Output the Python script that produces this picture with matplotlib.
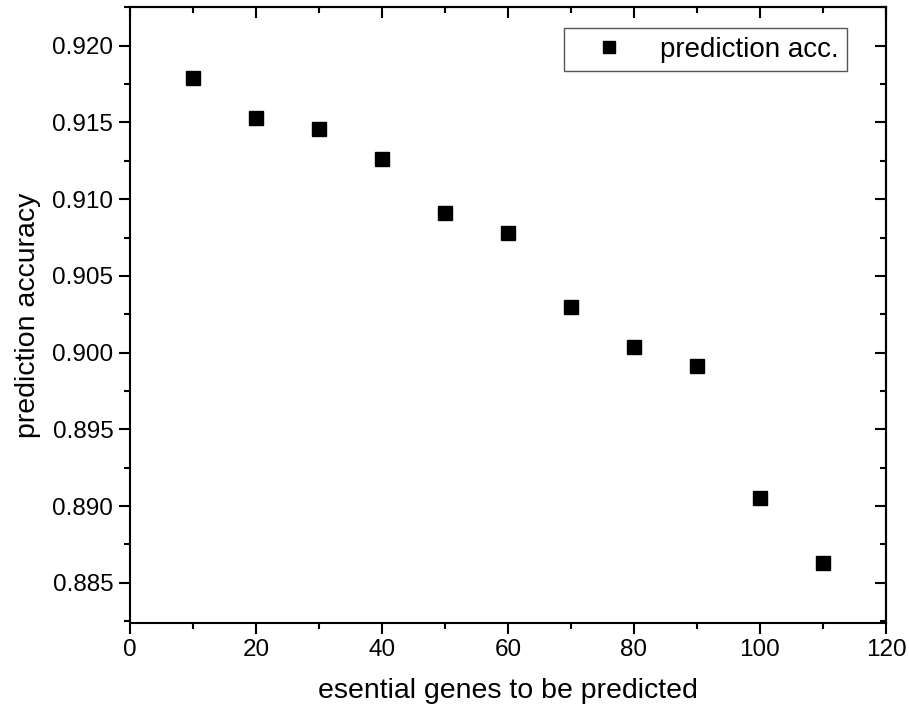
import numpy as np
import matplotlib
matplotlib.use("Agg")
import matplotlib.pyplot as plt
from matplotlib.ticker import MultipleLocator, FormatStrFormatter

plt.rcParams['font.family'] = ['Liberation Sans', 'DejaVu Sans']

# values
genes = [10, 20, 30, 40, 50, 60, 70, 80, 90, 100, 110]
accuracy = [0.9179, 0.9153, 0.9146, 0.9126, 0.9091, 0.9078,
            0.9030, 0.9004, 0.8991, 0.8905, 0.8863]

fig = plt.figure(figsize=(9.09, 7.15), dpi=100)
ax = fig.add_axes([0.143, 0.129, 0.8317, 0.8607])

ax.plot(genes, accuracy, linestyle='none', marker='s', markersize=9.5,
        color='black', label='prediction acc.')

ax.set_xlim(0, 120)
ax.set_ylim(0.8824, 0.9225)

ax.xaxis.set_major_locator(MultipleLocator(20))
ax.xaxis.set_minor_locator(MultipleLocator(10))
ax.yaxis.set_major_locator(MultipleLocator(0.005))
ax.yaxis.set_minor_locator(MultipleLocator(0.0025))
ax.yaxis.set_major_formatter(FormatStrFormatter('%.3f'))

for sp in ax.spines.values():
    sp.set_linewidth(1.5)

ax.tick_params(which='major', direction='out', length=8, width=1.5,
               labelsize=17.5, pad=4)
ax.tick_params(which='minor', direction='out', length=4, width=1.5)

# mirrored ticks pointing inwards on top and right
top = ax.secondary_xaxis('top')
top.xaxis.set_major_locator(MultipleLocator(20))
top.xaxis.set_minor_locator(MultipleLocator(10))
top.tick_params(which='major', direction='in', length=8, width=1.5, labeltop=False)
top.tick_params(which='minor', direction='in', length=4, width=1.5)
right = ax.secondary_yaxis('right')
right.yaxis.set_major_locator(MultipleLocator(0.005))
right.yaxis.set_minor_locator(MultipleLocator(0.0025))
right.tick_params(which='major', direction='in', length=8, width=1.5, labelright=False)
right.tick_params(which='minor', direction='in', length=4, width=1.5)
for s in (top, right):
    for sp in s.spines.values():
        sp.set_linewidth(1.5)

ax.set_xlabel('esential genes to be predicted', fontsize=20.5, labelpad=12)
ax.set_ylabel('prediction accuracy', fontsize=20.5, labelpad=8)

leg = ax.legend(loc='upper right', bbox_to_anchor=(0.963, 0.984), fontsize=20,
                fancybox=False, framealpha=1, edgecolor='#555555',
                borderpad=0.3, handlelength=2.6, handletextpad=0.55,
                borderaxespad=0.4, markerscale=0.85)
leg.get_frame().set_linewidth(1.0)

fig.savefig('out.png', dpi=100)
